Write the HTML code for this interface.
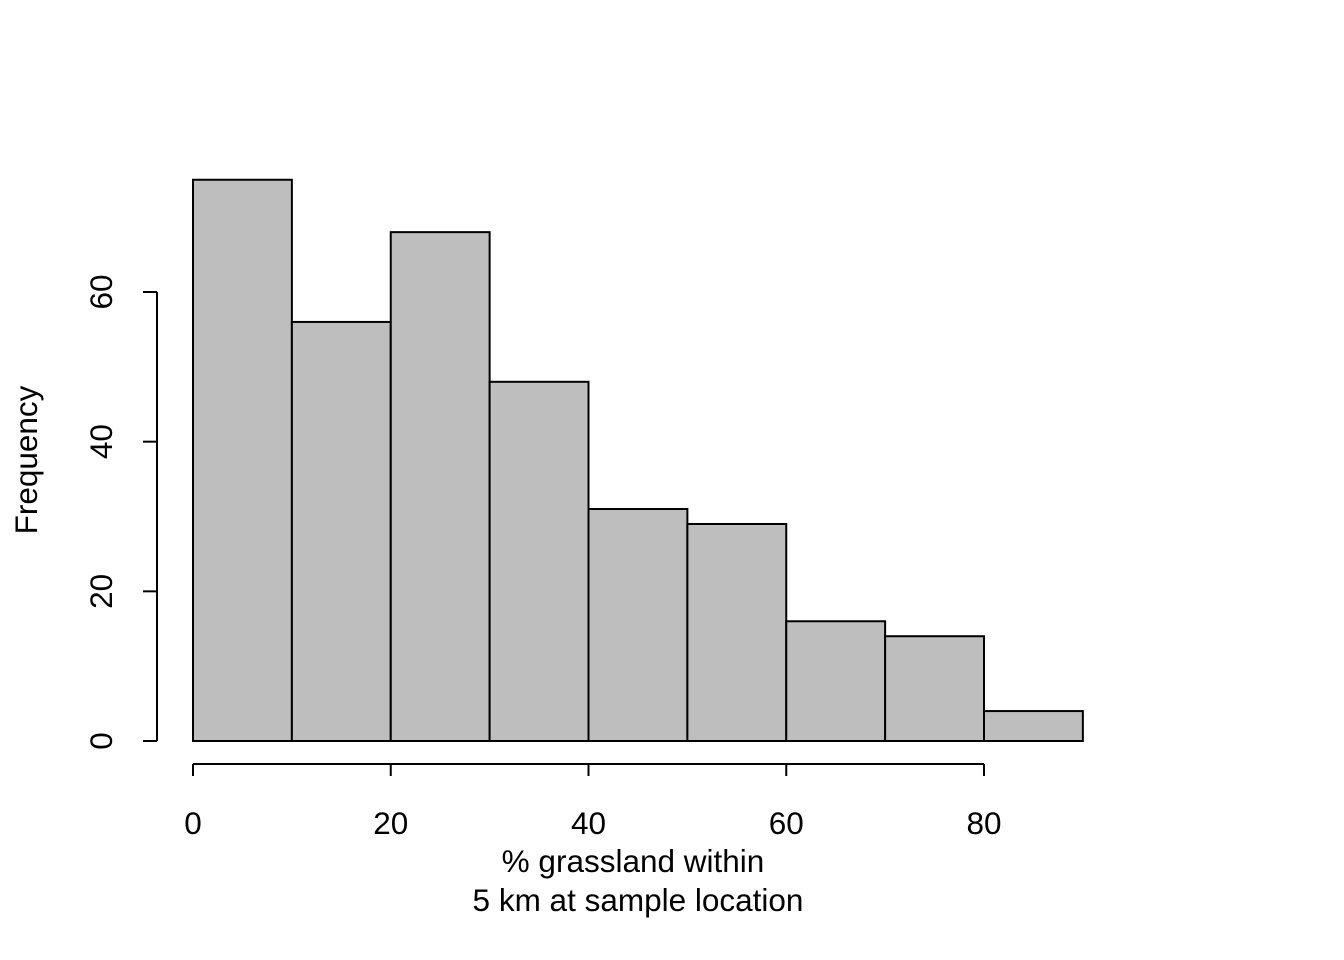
<!DOCTYPE html>
<html><head><meta charset="utf-8"><style>
html,body{margin:0;padding:0;background:#fff;}
svg{display:block;font-family:"Liberation Sans",Arial,sans-serif;}
</style></head><body>
<svg id="chart" width="1344" height="960">
<g id="bars"></g>
<g id="xaxis"></g>
<g id="yaxis"></g>
<text x="633" y="872" font-size="31.5" text-anchor="middle">% grassland within</text>
<text x="638" y="911" font-size="31.5" text-anchor="middle">5 km at sample location</text>
<text transform="translate(37,460) rotate(-90)" font-size="31.5" text-anchor="middle">Frequency</text>
</svg>
<script>
const binStarts = [0,10,20,30,40,50,60,70,80];
const binWidth = 10;
const counts = [75,56,68,48,31,29,16,14,4];
const xTicks = [0,20,40,60,80];
const yTicks = [0,20,40,60];
const NS="http://www.w3.org/2000/svg";
const x = v => 193 + v*(984-193)/80;
const y = v => 741 - v*(741-292)/60;
function mk(tag, attrs, parent){const e=document.createElementNS(NS,tag);for(const k in attrs)e.setAttribute(k,attrs[k]);parent.appendChild(e);return e;}
const bars=document.getElementById('bars');
binStarts.forEach((b,i)=>{
  const r=mk('rect',{x:x(b),y:y(counts[i]),width:x(b+binWidth)-x(b),height:y(0)-y(counts[i]),fill:'#bebebe',stroke:'#000','stroke-width':2},bars);
  
  
});
const xa=document.getElementById('xaxis');
mk('line',{x1:x(xTicks[0]),x2:x(xTicks[xTicks.length-1]),y1:764,y2:764,stroke:'#000','stroke-width':2},xa);
xTicks.forEach(t=>{
  mk('line',{x1:x(t),x2:x(t),y1:764,y2:776,stroke:'#000','stroke-width':2},xa);
  const tx=mk('text',{x:x(t),y:834,'font-size':31.5,'text-anchor':'middle'},xa);
  tx.textContent=t;
  
  
});
const ya=document.getElementById('yaxis');
mk('line',{x1:157,x2:157,y1:y(yTicks[0]),y2:y(yTicks[yTicks.length-1]),stroke:'#000','stroke-width':2},ya);
yTicks.forEach(t=>{
  mk('line',{x1:143,x2:157,y1:y(t),y2:y(t),stroke:'#000','stroke-width':2},ya);
  const tx=mk('text',{transform:'translate(112,'+y(t)+') rotate(-90)','font-size':31.5,'text-anchor':'middle'},ya);
  tx.textContent=t;
  
  
});
</script>
</body></html>
